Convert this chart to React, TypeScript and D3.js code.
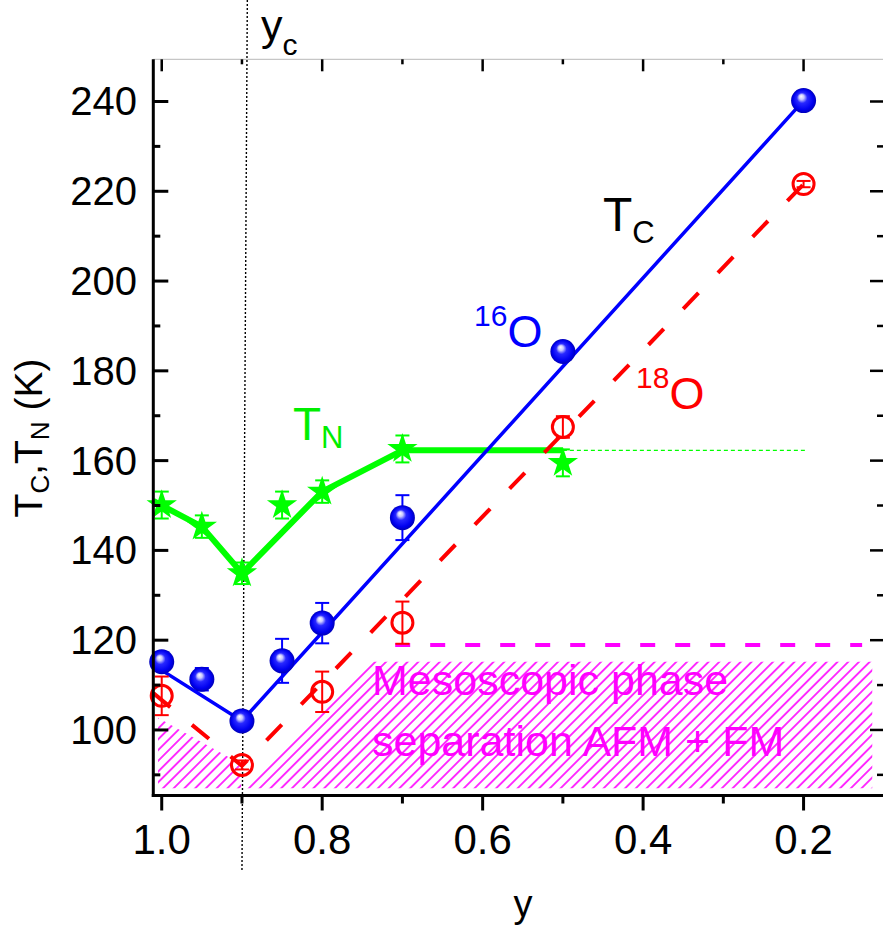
import React from "react";
import * as d3 from "d3";

// Composition y (x axis, reversed) and transition temperatures (K)
const Y16 = [1.0, 0.95, 0.9, 0.85, 0.8, 0.7, 0.5, 0.2];
const TC16 = [115.2, 111.3, 102.0, 115.4, 123.8, 147.3, 184.3, 240.2];
const TC16_ERR = [2, 2.5, 1.5, 4.9, 4.5, 5, 1.2, 1];

const Y18 = [1.0, 0.9, 0.8, 0.7, 0.5, 0.2];
const TC18 = [107.6, 92.2, 108.5, 123.9, 167.5, 221.6];
const TC18_ERR = [4.3, 1, 4.5, 4.7, 2.4, 0.7];

const YN = [1.0, 0.95, 0.9, 0.85, 0.8, 0.7, 0.5];
const TN = [150.1, 145.3, 134.9, 150.1, 153.1, 162.6, 159.5];
const TN_ERR = [3, 2.5, 2.4, 3, 2.5, 3, 3];

// Guide lines through the data
const FIT16_Y = [1.0105, 0.9, 0.2];
const FIT16_T = [114.5, 102.0, 240.2];
const FIT18_Y = [1.0105, 0.9, 0.2];
const FIT18_T = [108.2, 92.0, 221.6];
const FITN_Y = [1.0105, 0.95, 0.9, 0.8, 0.7, 0.5];
const FITN_T = [151.0, 145.3, 134.9, 153.1, 162.3, 162.3];
const TN_EXT_Y = [0.5, 0.195];
const TN_EXT_T = [162.3, 162.3];
const PS_LIMIT_Y = [0.709, 0.127];
const PS_LIMIT_T = [118.9, 118.9];

// Phase-separated region outline (y, T)
const PS_REGION_Y = [1.0046, 0.9011, 0.9011, 0.7403, 0.1144, 0.1144, 1.0046];
const PS_REGION_T = [102.7, 92.4, 87.0, 115.2, 115.2, 87.0, 87.0];

// Critical composition marker (slightly tilted guide)
const YC_LINE = [0.8933, 0.9];

const X_MAJOR = [1.0, 0.8, 0.6, 0.4, 0.2];
const X_MINOR = [0.9, 0.7, 0.5, 0.3];
const T_MAJOR = [100, 120, 140, 160, 180, 200, 220, 240];
const T_MINOR = [90, 110, 130, 150, 170, 190, 210, 230];

const W = 883;
const H = 929;
const FONT = "'Liberation Sans', Arial, Helvetica, sans-serif";

export default function App() {
  const x = d3.scaleLinear().domain([1.0105, 0.1]).range([153.3, 883.8]);
  const y = d3.scaleLinear().domain([85.4, 249.4]).range([795.5, 59.3]);

  const left = 153.3;
  const right = 884;
  const top = y.range()[1];
  const bottom = y.range()[0];

  const line = (ys: number[], ts: number[]) =>
    d3
      .line<number>()
      .x((_, i) => x(ys[i]))
      .y((t) => y(t))(ts) as string;

  const region =
    (d3
      .line<number>()
      .x((_, i) => x(PS_REGION_Y[i]))
      .y((t) => y(t))(PS_REGION_T) as string) + "Z";

  const star = d3.symbol().type(d3.symbolStar).size(285)() as string;

  const errBar = (
    xv: number,
    t: number,
    e: number,
    color: string,
    key: string,
    cap = 7
  ) => {
    const cx = x(xv);
    const y1 = y(t + e);
    const y2 = y(t - e);
    return (
      <g key={key} stroke={color} strokeWidth={2} fill="none">
        <line x1={cx} x2={cx} y1={y1} y2={y2} />
        <line x1={cx - cap} x2={cx + cap} y1={y1} y2={y1} />
        <line x1={cx - cap} x2={cx + cap} y1={y2} y2={y2} />
      </g>
    );
  };

  return (
    <svg
      width={W}
      height={H}
      viewBox={`0 0 ${W} ${H}`}
      style={{ position: "absolute", left: 0, top: 0, background: "#fff" }}
      fontFamily={FONT}
    >
      <defs>
        <pattern
          id="hatch"
          patternUnits="userSpaceOnUse"
          width={7.6}
          height={10}
          patternTransform="rotate(45)"
        >
          <line x1={3.8} x2={3.8} y1={-1} y2={11} stroke="#ff00ff" strokeWidth={1.6} />
        </pattern>
        <radialGradient id="sphere" cx="0.5" cy="0.5" r="0.5" fx="0.4" fy="0.32">
          <stop offset="0" stopColor="#ffffff" />
          <stop offset="0.2" stopColor="#c8c8ff" />
          <stop offset="0.42" stopColor="#2828ff" />
          <stop offset="0.8" stopColor="#0000f0" />
          <stop offset="1" stopColor="#0000b8" />
        </radialGradient>
        <clipPath id="plot">
          <rect x={left} y={top} width={right - left} height={bottom - top} />
        </clipPath>
      </defs>

      <rect x={0} y={0} width={W} height={H} fill="#fff" />

      {/* phase-separated region */}
      <path d={region} fill="url(#hatch)" />
      <g fill="#ff00ff" fontSize={43}>
        <text x={372} y={695}>Mesoscopic phase</text>
        <text x={372} y={756}>separation AFM + FM</text>
      </g>
      <path
        d={line(PS_LIMIT_Y, PS_LIMIT_T)}
        stroke="#ff00ff"
        strokeWidth={4}
        strokeDasharray="15 20"
        fill="none"
      />

      {/* critical composition */}
      <line
        x1={x(YC_LINE[0])}
        y1={0}
        x2={x(YC_LINE[1])}
        y2={872}
        stroke="#000"
        strokeWidth={1.4}
        strokeDasharray="2 2"
      />

      {/* guide lines */}
      <g clipPath="url(#plot)" fill="none">
        <path d={line(TN_EXT_Y, TN_EXT_T)} stroke="#00ff00" strokeWidth={1.2} strokeDasharray="4 3" />
        <path d={line(FITN_Y, FITN_T)} stroke="#00ff00" strokeWidth={6} strokeLinejoin="round" />
        <path d={line(FIT16_Y, FIT16_T)} stroke="#0000ff" strokeWidth={3.5} />
        <path
          d={line(FIT18_Y, FIT18_T)}
          stroke="#ff0000"
          strokeWidth={4}
          strokeDasharray="22 28"
        />
      </g>

      {/* error bars */}
      {YN.map((v, i) => errBar(v, TN[i], TN_ERR[i], "#00ff00", `en${i}`))}
      {Y18.map((v, i) => errBar(v, TC18[i], TC18_ERR[i], "#ff0000", `e18${i}`))}
      {Y16.map((v, i) => errBar(v, TC16[i], TC16_ERR[i], "#0000ff", `e16${i}`))}

      {/* markers */}
      {YN.map((v, i) => (
        <path key={`sn${i}`} d={star} transform={`translate(${x(v)},${y(TN[i])})`} fill="#00ff00" />
      ))}
      {Y18.map((v, i) => (
        <circle key={`c18${i}`} cx={x(v)} cy={y(TC18[i])} r={10.5} fill="none" stroke="#ff0000" strokeWidth={3} />
      ))}
      {Y16.map((v, i) => (
        <circle key={`c16${i}`} cx={x(v)} cy={y(TC16[i])} r={12.5} fill="url(#sphere)" />
      ))}

      {/* frame: top (light) */}
      <line x1={left} x2={right} y1={top} y2={top} stroke="#b8b8b8" strokeWidth={1} />
      {X_MAJOR.map((v) => (
        <line key={`tM${v}`} x1={x(v)} x2={x(v)} y1={top} y2={top + 12} stroke="#000" strokeWidth={2.5} />
      ))}
      {X_MINOR.map((v) => (
        <line key={`tm${v}`} x1={x(v)} x2={x(v)} y1={top} y2={top + 5} stroke="#000" strokeWidth={2.5} />
      ))}

      {/* right ticks */}
      {T_MAJOR.map((t) => (
        <line key={`rM${t}`} x1={right - 14} x2={right} y1={y(t)} y2={y(t)} stroke="#000" strokeWidth={2.5} />
      ))}
      {T_MINOR.map((t) => (
        <line key={`rm${t}`} x1={right - 7} x2={right} y1={y(t)} y2={y(t)} stroke="#000" strokeWidth={2.5} />
      ))}

      {/* left axis */}
      <line x1={left} x2={left} y1={top} y2={bottom + 1.5} stroke="#000" strokeWidth={3} />
      {T_MAJOR.map((t) => (
        <line key={`lM${t}`} x1={left} x2={left + 15} y1={y(t)} y2={y(t)} stroke="#000" strokeWidth={3} />
      ))}
      {T_MINOR.map((t) => (
        <line key={`lm${t}`} x1={left} x2={left + 7} y1={y(t)} y2={y(t)} stroke="#000" strokeWidth={3} />
      ))}
      {T_MAJOR.map((t) => (
        <text key={`lt${t}`} x={137} y={y(t) + 14} textAnchor="end" fontSize={40} fill="#000">
          {t}
        </text>
      ))}

      {/* bottom axis */}
      <line x1={left - 1.5} x2={right} y1={bottom} y2={bottom} stroke="#000" strokeWidth={3} />
      {X_MAJOR.map((v) => (
        <line key={`bM${v}`} x1={x(v)} x2={x(v)} y1={bottom} y2={bottom + 15} stroke="#000" strokeWidth={3} />
      ))}
      {X_MINOR.map((v) => (
        <line key={`bm${v}`} x1={x(v)} x2={x(v)} y1={bottom} y2={bottom + 8} stroke="#000" strokeWidth={3} />
      ))}
      {X_MAJOR.map((v) => (
        <text key={`bt${v}`} x={x(v)} y={854} textAnchor="middle" fontSize={42} fill="#000">
          {v.toFixed(1)}
        </text>
      ))}

      {/* axis titles */}
      <text x={523} y={917} textAnchor="middle" fontSize={38} fill="#000">
        y
      </text>
      <text transform="translate(42,438) rotate(-90)" textAnchor="middle" fontSize={39} fill="#000">
        T<tspan fontSize={26} dy={7}>C</tspan>
        <tspan dy={-7}>,T</tspan>
        <tspan fontSize={26} dy={7}>N</tspan>
        <tspan dy={-7}> (K)</tspan>
      </text>

      {/* annotations */}
      <text x={261} y={40} fontSize={43} fill="#000">
        y<tspan fontSize={30} dy={15}>c</tspan>
      </text>
      <text x={603} y={231} fontSize={48} fill="#000">
        T<tspan fontSize={31} dy={12}>C</tspan>
      </text>
      <text x={474} y={347} fontSize={45} fill="#0000ff">
        <tspan fontSize={30} dy={-21}>16</tspan>
        <tspan dy={21}>O</tspan>
      </text>
      <text x={636} y={409} fontSize={45} fill="#ff0000">
        <tspan fontSize={30} dy={-21}>18</tspan>
        <tspan dy={21}>O</tspan>
      </text>
      <text x={293} y={440} fontSize={46} fill="#00ee00">
        T<tspan fontSize={31} dy={8}>N</tspan>
      </text>
    </svg>
  );
}
